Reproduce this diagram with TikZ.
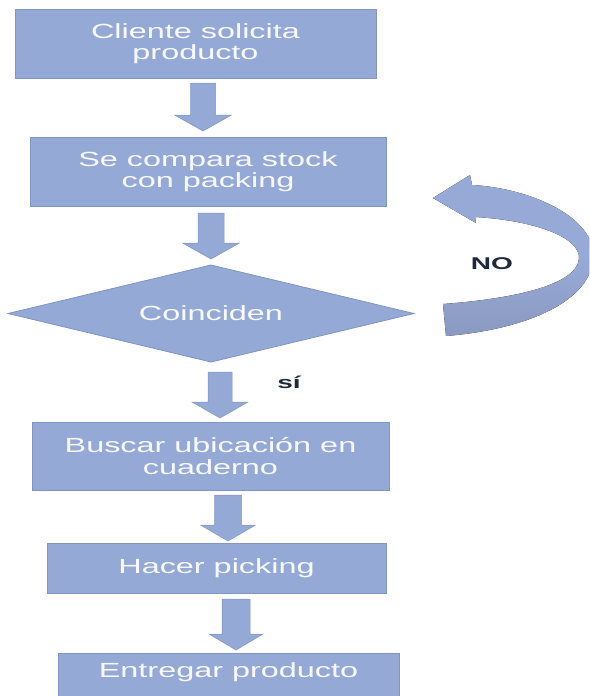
\documentclass[tikz,border=0pt]{standalone}
\usepackage{fontspec}
\setmainfont{Liberation Sans}
\newfontfamily\boxfont{Liberation Sans}[FakeStretch=1.58]
\newfontfamily\labfont{Liberation Sans}[FakeStretch=1.65]
\usetikzlibrary{shapes.geometric,calc}
\definecolor{boxfill}{RGB}{149,169,214}
\definecolor{boxline}{RGB}{128,148,198}
\definecolor{arrowlight}{RGB}{151,170,215}
\definecolor{arrowdark}{RGB}{138,153,192}
\definecolor{labeltext}{RGB}{30,42,58}
\definecolor{boxtext}{RGB}{248,249,252}
\newcommand{\flowarrow}[7]{%
  \fill[blockarrow] let \p1=(#1.south), \p2=(#2.north) in
   (#3pt-#4pt,\y1-#6pt) -- (#3pt+#4pt,\y1-#6pt) -- (#3pt+#4pt,\y2+#7pt+16pt)
   -- (#3pt+#5pt,\y2+#7pt+16pt) -- (#3pt,\y2+#7pt) -- (#3pt-#5pt,\y2+#7pt+16pt)
   -- (#3pt-#4pt,\y2+#7pt+16pt) -- cycle;}
\tikzset{
  box/.style={rectangle, fill=boxfill, draw=boxline, line width=0.8pt,
    text=boxtext, align=center, inner sep=0pt, outer sep=0pt,
    font=\boxfont\fontsize{20.5}{21.5}\selectfont},
  decision/.style={diamond, fill=boxfill, draw=boxline, line width=0.8pt,
    text=boxtext, inner sep=0pt, outer sep=0pt, aspect=4,
    font=\boxfont\fontsize{20.5}{21.5}\selectfont},
  blockarrow/.style={fill=boxfill, draw=boxline, line width=0.5pt},
  lab/.style={text=labeltext, inner sep=0pt, font=\labfont\bfseries\fontsize{17}{18}\selectfont}
}
\begin{document}
\begin{tikzpicture}[x=1pt,y=-1pt]
\useasboundingbox (0,0) rectangle (589,696);
\clip (0,0) rectangle (589,696);
% boxes
\node[box, minimum width=361, minimum height=69] (b1) at (195.5,43.5) {Cliente solicita\\producto};
\node[box, minimum width=356, minimum height=69] (b2) at (208,171.5) {Se compara stock\\con packing};
\node[decision, minimum width=406, minimum height=97] (d) at (211,313.5) {Coinciden};
\node[box, minimum width=357, minimum height=68] (b3) at (210.5,456) {Buscar ubicación en\\cuaderno};
\node[box, minimum width=339, minimum height=50] (b4) at (216.5,568) {Hacer picking};
\node[box, anchor=north, minimum width=341, text height=14pt, text depth=40pt, inner ysep=10pt] (b5) at (228.5,653) {Entregar producto};
% block arrows: from, to, cx, shaft half, head half, top gap, tip gap
\flowarrow{b1}{b2}{203}{12.5}{28.5}{5}{6}
\flowarrow{b2}{d}{211}{13}{28.5}{7}{6}
\flowarrow{d}{b3}{220}{12}{28}{10}{4}
\flowarrow{b3}{b4}{228}{13.5}{27.5}{5}{2}
\flowarrow{b4}{b5}{236}{14}{27}{6}{3}
% curved NO arrow
\fill[top color=arrowlight, bottom color=arrowdark, middle color=arrowlight]
  (433,198) -- (470,175) -- (472,185)
  .. controls (530,188) and (600,218) .. (593,262)
  .. controls (586,305) and (520,330) .. (446,336)
  -- (443,304)
  .. controls (510,299) and (576,286) .. (579,259)
  .. controls (581,236) and (530,220) .. (475,217)
  -- (476,223) -- cycle;
\node[lab] (no) at (492,263.5) {NO};
\node[lab] (si) at (289,382) {sí};
\end{tikzpicture}
\end{document}
